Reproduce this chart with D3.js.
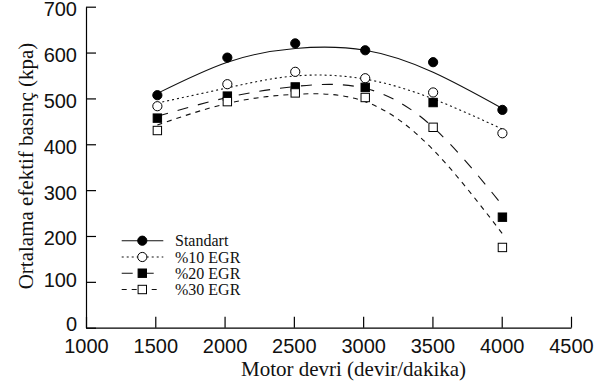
<!DOCTYPE html>
<html>
<head>
<meta charset="utf-8">
<script src="https://cdn.jsdelivr.net/npm/d3@7"></script>
<style>
  body { margin: 0; background: #fff; }
  svg { font-family: "Liberation Serif", "Times New Roman", serif; }
  .axis path, .axis line { stroke: #000; stroke-width: 1.2; }
  .axis text { font-size: 20px; fill: #111; }
</style>
</head>
<body>
<script>
// chart data
const rpm = [1515, 2020, 2510, 3015, 3505, 4005];
const standart = [507, 589, 620, 605, 579, 475];
const egr10 = [483, 531, 558, 544, 513, 424];
const egr20 = [457, 505, 525, 524, 491, 241];
const egr30 = [430, 493, 512, 502, 437, 175];

// fitted trend curves, read at the same speeds
const fitStandart = [511, 579, 609, 605, 557, 478];
const fitEgr10 = [490, 523, 549, 542, 499, 433];
const fitEgr20 = [461, 502, 526, 522, 437, 267];
const fitEgr30 = [442, 489, 509, 493, 388, 205];

const seriesNames = ["Standart", "%10 EGR", "%20 EGR", "%30 EGR"];
const xTicks = [1000, 1500, 2000, 2500, 3000, 3500, 4000, 4500];
const yTicks = [0, 100, 200, 300, 400, 500, 600, 700];

const width = 614, height = 385;

const x = d3.scaleLinear().domain([1000, 4500]).range([86, 571]);
const y = d3.scaleLinear().domain([0, 700]).range([327.7, 6.7]);

const series = [
    {name: seriesNames[0], values: standart, fit: fitStandart, dash: null,    marker: "circle", fill: "#000"},
    {name: seriesNames[1], values: egr10,    fit: fitEgr10,    dash: "2,3",   marker: "circle", fill: "#fff"},
    {name: seriesNames[2], values: egr20,    fit: fitEgr20,    dash: "11,10", marker: "square", fill: "#000"},
    {name: seriesNames[3], values: egr30,    fit: fitEgr30,    dash: "5,5",   marker: "square", fill: "#fff"}
];

const svg = d3.select("body").append("svg")
    .attr("width", width)
    .attr("height", height);

// axes, ticks pointing inward
const gx = svg.append("g").classed("axis", true)
    .attr("transform", `translate(0,${y(0)})`)
    .call(d3.axisBottom(x).tickValues(xTicks).tickSizeInner(-11).tickSizeOuter(0).tickFormat(d3.format("d")));
gx.selectAll("text").attr("y", 25).attr("dy", null);

const gy = svg.append("g").classed("axis", true)
    .attr("transform", `translate(${x(1000)},0)`)
    .call(d3.axisLeft(y).tickValues(yTicks).tickSizeInner(-10).tickSizeOuter(0));
// the lowest labels sit a little higher in the original
gy.selectAll("text").attr("x", -9).attr("dy", null)
    .attr("y", d => d === 0 ? 2.5 : d === 100 ? 5 : 9);

// axis titles
svg.append("text")
    .attr("x", 353.5).attr("y", 376)
    .attr("text-anchor", "middle")
    .attr("font-size", 21)
    .attr("fill", "#111")
    .text("Motor devri (devir/dakika)");
svg.append("text")
    .attr("transform", `translate(33,166) rotate(-90)`)
    .attr("text-anchor", "middle")
    .attr("font-size", 21)
    .attr("fill", "#111")
    .text("Ortalama efektif basınç (kpa)");

const line = d3.line()
    .x((d, i) => x(rpm[i]))
    .y(d => y(d))
    .curve(d3.curveNatural);

function drawMarker(g, s, cx, cy) {
    if (s.marker === "circle") {
        g.append("circle")
            .attr("cx", cx).attr("cy", cy).attr("r", 4.6)
            .attr("fill", s.fill).attr("stroke", "#000").attr("stroke-width", 1);
    } else {
        g.append("rect")
            .attr("x", cx - 4.2).attr("y", cy - 4.2)
            .attr("width", 8.4).attr("height", 8.4)
            .attr("fill", s.fill).attr("stroke", "#000").attr("stroke-width", 1);
    }
}

// trend lines
const gLines = svg.append("g");
series.forEach(s => {
    gLines.append("path")
        .attr("d", line(s.fit))
        .attr("fill", "none")
        .attr("stroke", "#111")
        .attr("stroke-width", 1.1)
        .attr("stroke-dasharray", s.dash);
});

// data points
const gPts = svg.append("g");
series.forEach(s => {
    s.values.forEach((v, i) => drawMarker(gPts, s, x(rpm[i]), y(v)));
});

// legend
const legend = svg.append("g");
const legendRows = [240.7, 257, 273.2, 289.5];
series.forEach((s, i) => {
    const ly = legendRows[i];
    legend.append("line")
        .attr("x1", 121.7).attr("x2", i < 2 ? 163.3 : 157)
        .attr("y1", ly).attr("y2", ly)
        .attr("stroke", "#111").attr("stroke-width", 1.1)
        .attr("stroke-dasharray", s.dash);
    drawMarker(legend, s, 142.3, ly);
    legend.append("text")
        .attr("x", 175).attr("y", ly + 5.5)
        .attr("font-size", 16)
        .attr("fill", "#111")
        .text(s.name);
});
</script>
</body>
</html>
